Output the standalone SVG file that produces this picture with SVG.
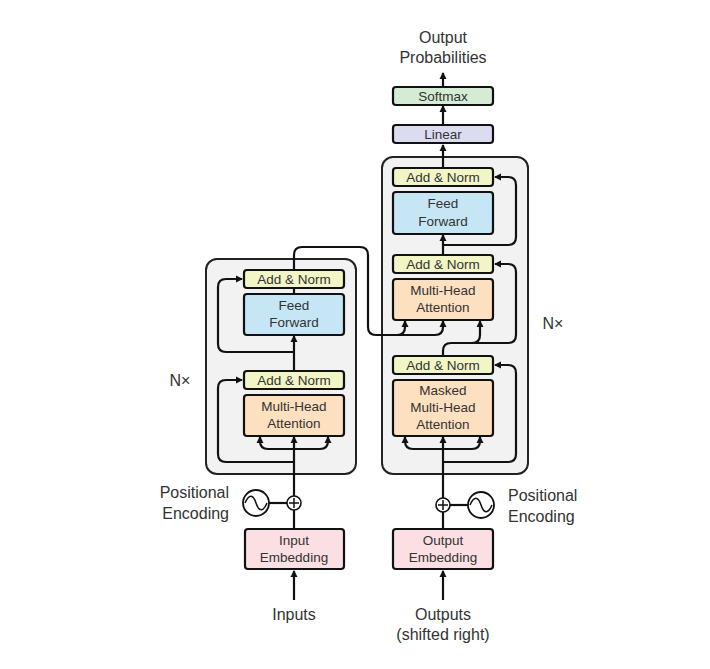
<svg xmlns="http://www.w3.org/2000/svg" width="710" height="669" viewBox="0 0 710 669">
<defs>
<marker id="ah" markerWidth="8" markerHeight="8" refX="6" refY="4" orient="auto" markerUnits="userSpaceOnUse"><path d="M0,0.5 L7,4 L0,7.5 Z" fill="#111"/></marker>
<style>
text{font-family:"Helvetica Neue","Liberation Sans",Arial,sans-serif;fill:#333;}
.t{font-size:13.5px;text-anchor:middle;}
.l{font-size:16px;}
.b{stroke:#111;stroke-width:2.2;}
.c{fill:none;stroke:#111;stroke-width:2.2;stroke-linejoin:round;}
.an{fill:#f2f5c6;}
.ff{fill:#c6e6f6;}
.mh{fill:#fde0c0;}
.em{fill:#fbdfe2;}
</style>
</defs>
<rect width="710" height="669" fill="#fff"/>
<g id="encoder-frame"><rect x="206" y="259" width="150" height="215" rx="11" fill="#f2f2f2" stroke="#222" stroke-width="2"/></g>
<g id="decoder-frame"><rect x="382" y="157" width="146" height="317" rx="11" fill="#f2f2f2" stroke="#222" stroke-width="2"/></g>
<g id="connectors">
<path class="c" d="M294,600 V571" marker-end="url(#ah)"/>
<path class="c" d="M443,600 V571" marker-end="url(#ah)"/>
<path class="c" d="M294,529 V510"/>
<path class="c" d="M443,529 V512"/>
<path class="c" d="M269,503 H287"/>
<path class="c" d="M450,505 H468"/>
<path class="c" d="M294,496 V437" marker-end="url(#ah)"/>
<path class="c" d="M443,498 V437" marker-end="url(#ah)"/>
<path class="c" d="M294,449 H268 Q260,449 260,441 V437" marker-end="url(#ah)"/>
<path class="c" d="M294,449 H320 Q328,449 328,441 V437" marker-end="url(#ah)"/>
<path class="c" d="M443,449 H413 Q405,449 405,441 V437" marker-end="url(#ah)"/>
<path class="c" d="M443,449 H472 Q480,449 480,441 V437" marker-end="url(#ah)"/>
<path class="c" d="M294,462 H226 Q218,462 218,454 V388 Q218,380 226,380 H242" marker-end="url(#ah)"/>
<path class="c" d="M294,435 V395"/>
<path class="c" d="M294,371 V336" marker-end="url(#ah)"/>
<path class="c" d="M294,352 H226 Q218,352 218,344 V287 Q218,279 226,279 H242" marker-end="url(#ah)"/>
<path class="c" d="M294,294 V288"/>
<path class="c" d="M294,270 V255 Q294,247 302,247 H360 Q368,247 368,255 V327 Q368,335 376,335 H435 Q443,335 443,327 V321" marker-end="url(#ah)"/>
<path class="c" d="M397,335 Q405,335 405,327 V321" marker-end="url(#ah)"/>
<path class="c" d="M443,462 H508 Q516,462 516,454 V373 Q516,365 508,365 H495" marker-end="url(#ah)"/>
<path class="c" d="M443,356 V351 Q443,343 451,343 H472 Q480,343 480,335 V321" marker-end="url(#ah)"/>
<path class="c" d="M472,343 H508 Q516,343 516,335 V272 Q516,264 508,264 H495" marker-end="url(#ah)"/>
<path class="c" d="M443,255 V235" marker-end="url(#ah)"/>
<path class="c" d="M443,245 H508 Q516,245 516,237 V185 Q516,177 508,177 H495" marker-end="url(#ah)"/>
<path class="c" d="M443,168 V145" marker-end="url(#ah)"/>
<path class="c" d="M443,125 V106" marker-end="url(#ah)"/>
<path class="c" d="M443,87 V73" marker-end="url(#ah)"/>
</g>
<g id="enc-addnorm2"><rect class="an b" x="244" y="270" width="100" height="18" rx="3"/><text class="t" x="294" y="284">Add &amp; Norm</text></g>
<g id="enc-ff"><rect class="ff b" x="244" y="294" width="100" height="41" rx="3"/><text class="t" x="294" y="310">Feed</text><text class="t" x="294" y="327">Forward</text></g>
<g id="enc-addnorm1"><rect class="an b" x="244" y="371" width="100" height="18" rx="3"/><text class="t" x="294" y="385">Add &amp; Norm</text></g>
<g id="enc-mha"><rect class="mh b" x="244" y="395" width="100" height="41" rx="3"/><text class="t" x="294" y="411">Multi-Head</text><text class="t" x="294" y="428">Attention</text></g>
<g id="dec-addnorm3"><rect class="an b" x="393" y="168" width="100" height="18" rx="3"/><text class="t" x="443" y="182">Add &amp; Norm</text></g>
<g id="dec-ff"><rect class="ff b" x="393" y="192" width="100" height="42" rx="3"/><text class="t" x="443" y="208">Feed</text><text class="t" x="443" y="226">Forward</text></g>
<g id="dec-addnorm2"><rect class="an b" x="393" y="255" width="100" height="18" rx="3"/><text class="t" x="443" y="269">Add &amp; Norm</text></g>
<g id="dec-mha"><rect class="mh b" x="393" y="279" width="100" height="41" rx="3"/><text class="t" x="443" y="295">Multi-Head</text><text class="t" x="443" y="312">Attention</text></g>
<g id="dec-addnorm1"><rect class="an b" x="393" y="356" width="100" height="18" rx="3"/><text class="t" x="443" y="370">Add &amp; Norm</text></g>
<g id="dec-masked"><rect class="mh b" x="393" y="380" width="100" height="56" rx="3"/><text class="t" x="443" y="395">Masked</text><text class="t" x="443" y="412">Multi-Head</text><text class="t" x="443" y="429">Attention</text></g>
<g id="linear"><rect class="b" fill="#dcdcf0" x="393" y="125" width="100" height="18" rx="3"/><text class="t" x="443" y="139">Linear</text></g>
<g id="softmax"><rect class="b" fill="#d4ecd3" x="393" y="87" width="100" height="18" rx="3"/><text class="t" x="443" y="101">Softmax</text></g>
<g id="input-emb"><rect class="em b" x="245" y="529" width="99" height="40" rx="3"/><text class="t" x="294" y="545">Input</text><text class="t" x="294" y="562">Embedding</text></g>
<g id="output-emb"><rect class="em b" x="393" y="529" width="100" height="40" rx="3"/><text class="t" x="443" y="545">Output</text><text class="t" x="443" y="562">Embedding</text></g>
<g id="enc-pe"><circle cx="256" cy="503" r="13" fill="#fff" stroke="#111" stroke-width="1.8"/><path d="M245,503 C249,494 253,494 256,503 C259,512 263,512 267,503" fill="none" stroke="#111" stroke-width="1.5"/><circle cx="294" cy="503" r="7" fill="#fff" stroke="#111" stroke-width="1.6"/><path d="M289,503 H299 M294,498 V508" stroke="#111" stroke-width="1.5"/>
<text class="l" x="229" y="498" text-anchor="end">Positional</text><text class="l" x="229" y="519" text-anchor="end">Encoding</text></g>
<g id="dec-pe"><circle cx="481" cy="505" r="13" fill="#fff" stroke="#111" stroke-width="1.8"/><path d="M470,505 C474,496 478,496 481,505 C484,514 488,514 492,505" fill="none" stroke="#111" stroke-width="1.5"/><circle cx="443" cy="505" r="7" fill="#fff" stroke="#111" stroke-width="1.6"/><path d="M438,505 H448 M443,500 V510" stroke="#111" stroke-width="1.5"/>
<text class="l" x="508" y="501">Positional</text><text class="l" x="508" y="522">Encoding</text></g>
<g id="labels">
<text class="l" x="180" y="386" text-anchor="middle">N×</text>
<text class="l" x="553" y="329" text-anchor="middle">N×</text>
<text class="l" x="294" y="620" text-anchor="middle">Inputs</text>
<text class="l" x="443" y="620" text-anchor="middle">Outputs</text>
<text class="l" x="443" y="640" text-anchor="middle">(shifted right)</text>
<text class="l" x="443" y="43" text-anchor="middle">Output</text>
<text class="l" x="443" y="63" text-anchor="middle">Probabilities</text>
</g>
</svg>
